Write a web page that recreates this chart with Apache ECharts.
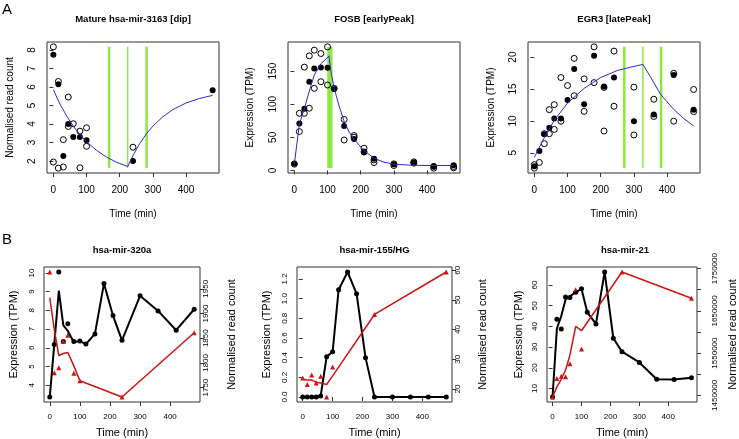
<!DOCTYPE html>
<html><head><meta charset="utf-8">
<script src="https://cdn.jsdelivr.net/npm/echarts@6/dist/echarts.min.js"></script>
<style>html,body{margin:0;padding:0;background:#fff}#c{width:739px;height:439px}</style>
</head><body><div id="c"></div>
<script>
// ---------- data ----------
const timeTicks = [0, 100, 200, 300, 400];

// A1: Mature hsa-mir-3163 [dip]
const a1Filled = [[0,7.75],[15,6.15],[30,2.28],[45,4.0],[60,3.3],[80,3.3],[100,3.12],[240,2.0],[480,5.82]];
const a1Open = [[0,8.17],[0,1.95],[15,6.3],[15,1.62],[30,3.16],[30,1.68],[45,5.46],[45,3.87],[60,4.02],[80,3.62],[80,1.64],[100,3.8],[100,2.8],[240,2.75]];
const a1CurveDown = [[0,5.85],[20,5.08],[40,4.44],[60,3.89],[80,3.43],[100,3.05],[130,2.58],[160,2.22],[190,1.94],[224,1.71]];
const a1CurveUp = [[224,1.71],[240,2.3],[260,2.94],[281,3.49],[300,3.89],[330,4.4],[360,4.78],[400,5.14],[440,5.38],[480,5.55]];
const a1Breaks = [168, 224, 281];
const a1YTicks = [2,3,4,5,6,7,8];

// A2: FOSB [earlyPeak]
const a2Filled = [[0,10.5],[15,71],[30,93],[45,134],[60,154],[80,155.5],[100,155],[120,123],[150,67],[180,47.5],[210,27.5],[240,17.5],[300,9.5],[360,12],[420,6.5],[480,8]];
const a2Open = [[0,9.5],[15,58.7],[15,86.3],[30,86.3],[30,156],[45,173],[45,94],[60,181.6],[60,124],[80,176.6],[80,134],[100,186.6],[100,129],[120,124],[150,77],[150,46],[180,52.7],[180,50],[210,33.6],[210,28],[240,12],[240,16],[300,7.5],[300,10],[360,11],[360,13],[420,3.5],[420,6],[480,4],[480,6]];
const a2CurveUp = [[0,10],[15,70],[30,93],[45,120],[60,144],[80,161],[101,171],[104,173]];
const a2CurveDown = [[104,173],[110,150],[120,124],[135,97],[150,74],[165,58],[180,47],[210,30],[240,18.5],[270,12.5],[300,9.5],[350,8],[400,7.5],[480,7.5]];
const a2Breaks = [102, 107, 112];
const a2YTicks = [0,50,100,150];

// A3: EGR3 [latePeak]
const a3Filled = [[0,2.9],[15,5.3],[30,7.9],[45,8.93],[60,10.38],[80,10.38],[100,13.28],[120,18.14],[150,12.6],[180,20.2],[210,15.4],[240,16.8],[300,9.96],[360,11.0],[420,17.2],[480,11.77]];
const a3Open = [[0,3.15],[0,2.6],[15,3.49],[30,6.44],[30,8.0],[45,8.0],[45,11.77],[60,8.67],[60,12.55],[80,9.96],[80,16.8],[100,15.55],[120,19.8],[120,13.95],[150,16.59],[150,11.5],[180,21.61],[180,16.0],[210,15.25],[210,8.42],[240,20.94],[240,12.3],[300,15.3],[300,7.8],[360,13.4],[360,10.7],[420,17.46],[420,9.96],[480,14.93],[480,11.46]];
const a3CurveUp = [[0,4.3],[30,7.4],[60,10.1],[100,12.8],[150,15.1],[200,16.8],[250,17.9],[300,18.55],[327,18.85]];
const a3CurveDown = [[327,18.85],[350,16.9],[380,14.2],[420,11.8],[450,10.4],[480,9.2]];
const a3Breaks = [271, 327, 382];
const a3YTicks = [5,10,15,20];

// B1: hsa-mir-320a
const b1BlackPts = [[0,3.37],[15,6.18],[30,10.05],[45,6.33],[60,7.28],[80,6.33],[100,6.36],[120,6.2],[150,6.74],[180,9.43],[210,7.72],[240,6.4],[300,8.78],[360,7.97],[420,6.94],[480,8.06]];
const b1BlackLine = [[0,3.37],[15,6.2],[30,9.05],[45,7.2],[60,6.9],[80,6.3],[100,6.36],[120,6.2],[150,6.74],[180,9.43],[210,7.72],[240,6.4],[300,8.78],[360,7.97],[420,6.94],[480,8.06]];
const b1RedPts = [[0,1984],[15,1780],[30,1790],[45,1844],[60,1856],[80,1779],[100,1764],[240,1731],[480,1861]];
const b1RedLine = [[0,1932],[15,1868],[30,1815],[45,1819],[60,1821],[80,1794],[100,1764],[240,1731],[480,1861]];
const b1LeftTicks = [4,5,6,7,8,9,10];
const b1RightTicks = [1750,1800,1850,1900,1950];

// B2: hsa-mir-155/HG
const b2BlackPts = [[0,0],[15,0],[30,0],[45,0],[60,0.01],[80,0.41],[100,0.46],[120,1.09],[150,1.27],[180,1.05],[210,0.40],[240,0],[300,0],[360,0],[420,0],[480,0]];
const b2BlackLine = [[0,0],[15,0],[30,0],[45,0],[60,0.01],[80,0.41],[100,0.46],[120,1.09],[150,1.27],[180,1.05],[210,0.40],[240,0],[300,0],[360,0],[420,0],[480,0]];
const b2RedPts = [[0,23.7],[15,21.5],[30,24.7],[45,22.0],[60,24.3],[80,17.3],[100,27.4],[240,45.1],[480,59.4]];
const b2RedLine = [[0,23.3],[15,23.0],[30,23.0],[45,22.3],[60,22.0],[80,21.5],[100,24.4],[240,45.1],[480,59.4]];
const b2LeftTicks = [0,0.2,0.4,0.6,0.8,1.0,1.2];
const b2RightTicks = [20,30,40,50,60];

// B3: hsa-mir-21
const b3BlackPts = [[0,5.9],[15,43.5],[30,38.7],[45,54.2],[60,54.0],[80,56.5],[100,58.2],[120,46.8],[150,41.2],[180,66.3],[210,34.3],[240,27.8],[300,22.6],[360,14.5],[420,14.4],[480,15.2]];
const b3BlackLine = [[0,5.9],[15,39],[30,45],[45,53],[60,54.5],[80,56.5],[100,58.2],[120,46.8],[150,41.2],[180,66.3],[210,34.3],[240,27.8],[300,22.6],[360,14.5],[420,14.4],[480,15.2]];
const b3RedPts = [[0,1446000],[15,1489700],[30,1495000],[45,1494000],[60,1525000],[80,1700000],[100,1559500],[240,1742000],[480,1680000]];
const b3RedLine = [[0,1446000],[15,1470000],[30,1488000],[45,1510000],[60,1545000],[80,1613000],[100,1603000],[240,1742000],[480,1680000]];
const b3LeftTicks = [10,20,30,40,50,60];
const b3RightTicks = [1450000,1500000,1550000,1600000,1650000,1700000,1750000];
const b3RightLabels = [1450000,1550000,1650000,1750000];

const titles = ['Mature hsa-mir-3163 [dip]','FOSB [earlyPeak]','EGR3 [latePeak]','hsa-mir-320a','hsa-mir-155/HG','hsa-mir-21'];

// ---------- helpers ----------
const FONT = '"Liberation Sans", Arial, Helvetica, sans-serif';
function rng(arrs, idx){
  let mn = Infinity, mx = -Infinity;
  arrs.forEach(a => a.forEach(p => { mn = Math.min(mn, p[idx]); mx = Math.max(mx, p[idx]); }));
  const d = (mx - mn) * 0.04;
  return {min: mn - d, max: mx + d, lo: mn, hi: mx};
}
const XR = rng([a1Filled, a1Open, a2Filled, a2Open, a3Filled, a3Open], 0);

function mkX(gi, c){
  return {type:'value', gridIndex:gi, min:XR.min, max:XR.max,
    axisLine:{show:false}, splitLine:{show:false},
    axisTick:{show:true, inside:false, length:4, lineStyle:{color:'#333'}, customValues:timeTicks},
    axisLabel:{customValues:timeTicks, fontSize:c.fs, margin:c.m, color:'#000', fontFamily:FONT},
    name:'Time (min)', nameLocation:'middle', nameGap:c.ng,
    nameTextStyle:{fontSize:c.nfs, fontFamily:FONT, color:'#000'}};
}
function mkY(gi, r, ticks, labels, c){
  return {type:'value', gridIndex:gi, min:r.min, max:r.max, position:c.pos || 'left',
    axisLine:{show:false}, splitLine:{show:false},
    axisTick:{show:true, inside:false, length:4, lineStyle:{color:'#333'}, customValues:ticks},
    axisLabel:{customValues:labels, rotate:90, fontSize:c.fs, margin:c.m, color:'#000', fontFamily:FONT,
      formatter: c.fmt || (v => String(v))},
    name:c.name, nameLocation:'middle', nameGap:c.ng, nameRotate:90,
    nameTextStyle:{fontSize:c.nfs, fontFamily:FONT, color:'#000'}};
}
const series = [];
function openPts(data, xi, yi){ series.push({type:'scatter', xAxisIndex:xi, yAxisIndex:yi, data, symbol:'circle', symbolSize:6, silent:true, z:3,
  itemStyle:{color:'rgba(255,255,255,0)', borderColor:'#000', borderWidth:1, opacity:1}}); }
function fillPts(data, xi, yi, color, sym, size){ series.push({type:'scatter', xAxisIndex:xi, yAxisIndex:yi, data, symbol:sym||'circle', symbolSize:size||6, silent:true, z:3,
  itemStyle:{color:color||'#000', opacity:1}}); }
function line(data, xi, yi, color, width, z){ series.push({type:'line', xAxisIndex:xi, yAxisIndex:yi, data, symbol:'none', showSymbol:false, silent:true, z:z||4,
  lineStyle:{color, width}}); }
function breaks(ts, xi, yi, r, widths){
  ts.forEach((t, i) => line([[t, r.lo], [t, r.hi]], xi, yi, '#8EE644', widths[i], 2));
}

// ---------- ranges ----------
const A1R = rng([a1Filled, a1Open], 1);
const A2R = rng([a2Filled, a2Open], 1);
const A3R = rng([a3Filled, a3Open], 1);
const B1L = rng([b1BlackPts, b1BlackLine], 1), B1R = rng([b1RedPts, b1RedLine], 1);
const B2L = rng([b2BlackPts, b2BlackLine], 1), B2R = rng([b2RedPts, b2RedLine], 1);
const B3L = rng([b3BlackPts, b3BlackLine], 1), B3R = rng([b3RedPts, b3RedLine], 1);

// ---------- series ----------
const BLUE = '#2B2BC8', RED = '#CC1414';
breaks(a1Breaks, 0, 0, A1R, [2.5, 1.5, 2.5]);
openPts(a1Open, 0, 0); fillPts(a1Filled, 0, 0);
line(a1CurveDown, 0, 0, BLUE, 1); line(a1CurveUp, 0, 0, BLUE, 1);

breaks(a2Breaks, 1, 1, A2R, [2, 2, 2]);
openPts(a2Open, 1, 1); fillPts(a2Filled, 1, 1);
line(a2CurveUp, 1, 1, BLUE, 1); line(a2CurveDown, 1, 1, BLUE, 1);

breaks(a3Breaks, 2, 2, A3R, [2.5, 1.5, 2.5]);
openPts(a3Open, 2, 2); fillPts(a3Filled, 2, 2);
line(a3CurveUp, 2, 2, BLUE, 1); line(a3CurveDown, 2, 2, BLUE, 1);

line(b1BlackLine, 3, 3, '#000', 2); fillPts(b1BlackPts, 3, 3, '#000', 'circle', 5);
line(b1RedLine, 3, 4, RED, 1.5); fillPts(b1RedPts, 3, 4, RED, 'triangle', 5);

line(b2BlackLine, 4, 5, '#000', 2); fillPts(b2BlackPts, 4, 5, '#000', 'circle', 5);
line(b2RedLine, 4, 6, RED, 1.5); fillPts(b2RedPts, 4, 6, RED, 'triangle', 5);

line(b3BlackLine, 5, 7, '#000', 2); fillPts(b3BlackPts, 5, 7, '#000', 'circle', 5);
line(b3RedLine, 5, 8, RED, 1.5); fillPts(b3RedPts, 5, 8, RED, 'triangle', 5);

// ---------- layout ----------
const gridBox = (l, t, w, h) => ({left:l, top:t, width:w, height:h, show:true, borderColor:'#333', borderWidth:1, backgroundColor:'rgba(0,0,0,0)', containLabel:false});
const grids = [gridBox(47,42,172,131), gridBox(288,42,172,131), gridBox(528,42,172,131),
               gridBox(44,267,156,136), gridBox(297,267,155,135), gridBox(547,267,155,136)];
const topX = {fs:10, m:12, ng:36, nfs:10};
const botX = {fs:8, m:11, ng:25, nfs:11};
const xAxes = [mkX(0, topX), mkX(1, topX), mkX(2, topX), mkX(3, botX), mkX(4, botX), mkX(5, botX)];
const yAxes = [
  mkY(0, A1R, a1YTicks, a1YTicks, {fs:10, m:10, name:'Normalised read count', ng:32, nfs:10}),
  mkY(1, A2R, a2YTicks, a2YTicks, {fs:10, m:10, name:'Expression (TPM)', ng:33, nfs:10}),
  mkY(2, A3R, a3YTicks, a3YTicks, {fs:10, m:10, name:'Expression (TPM)', ng:32, nfs:10}),
  mkY(3, B1L, b1LeftTicks, b1LeftTicks, {fs:8, m:8, name:'Expression (TPM)', ng:25, nfs:11}),
  mkY(3, B1R, b1RightTicks, b1RightTicks, {pos:'right', fs:8, m:2, name:'Normalised read count', ng:26, nfs:11}),
  mkY(4, B2L, b2LeftTicks, b2LeftTicks, {fs:8, m:8, name:'Expression (TPM)', ng:25, nfs:11, fmt: v => v.toFixed(1)}),
  mkY(4, B2R, b2RightTicks, b2RightTicks, {pos:'right', fs:8, m:2, name:'Normalised read count', ng:25, nfs:11}),
  mkY(5, B3L, b3LeftTicks, b3LeftTicks, {fs:8, m:8, name:'Expression (TPM)', ng:23, nfs:11}),
  mkY(5, B3R, b3RightTicks, b3RightLabels, {pos:'right', fs:8, m:14, name:'Normalised read count', ng:30, nfs:11})
];

const titlePos = [[133,19],[374,19],[614,19],[122,250],[374.5,250],[625,250]];
const graphics = titles.map((t, i) => ({type:'text', x:titlePos[i][0], y:titlePos[i][1],
  style:{text:t, fill:'#000', font:'bold 9.5px ' + FONT, textAlign:'center', textVerticalAlign:'middle'}}));
graphics.push({type:'text', x:2, y:10, style:{text:'A', fill:'#000', font:'15px ' + FONT, textVerticalAlign:'middle'}});
graphics.push({type:'text', x:2, y:240, style:{text:'B', fill:'#000', font:'15px ' + FONT, textVerticalAlign:'middle'}});

const chart = echarts.init(document.getElementById('c'), null, {renderer:'canvas'});
chart.setOption({
  animation:false, backgroundColor:'#fff',
  grid:grids, xAxis:xAxes, yAxis:yAxes, series, graphic:graphics
});
</script></body></html>
